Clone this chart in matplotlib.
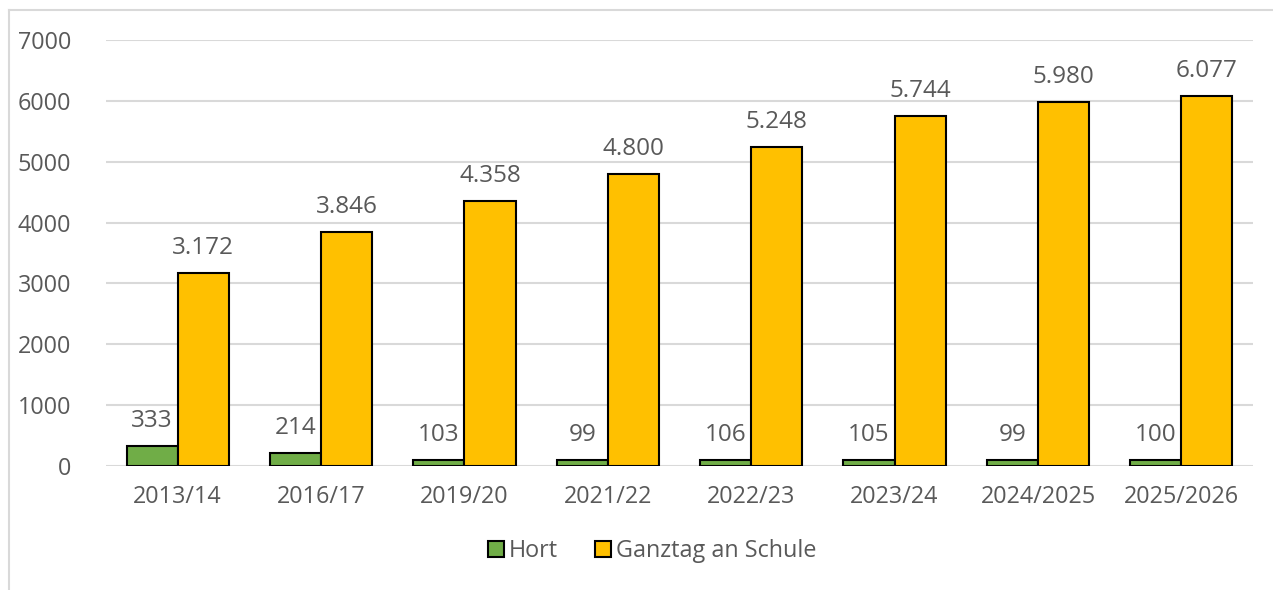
import matplotlib.pyplot as plt
import numpy as np
from matplotlib.lines import Line2D

plt.rcParams['font.family'] = ['Open Sans', 'DejaVu Sans']

years = ['2013/14', '2016/17', '2019/20', '2021/22', '2022/23', '2023/24', '2024/2025', '2025/2026']
hort = [333, 214, 103, 99, 106, 105, 99, 100]
ganztag = [3172, 3846, 4358, 4800, 5248, 5744, 5980, 6077]
yticks = [0, 1000, 2000, 3000, 4000, 5000, 6000, 7000]

GREEN = '#70AD47'
ORANGE = '#FFC000'
TEXT = '#595959'
GRID = '#D9D9D9'


def fmt_de(v):
    # German thousands separator
    return f'{v:,}'.replace(',', '.')


fig = plt.figure(figsize=(12.73, 5.90), dpi=100)
ax = fig.add_axes([106 / 1273, 1 - 466 / 590, (1253 - 106) / 1273, (466 - 40) / 590])

x = np.arange(len(years))
w = 0.357
b1 = ax.bar(x - w / 2, hort, w, color=GREEN, edgecolor='black', linewidth=1.5, label='Hort', zorder=3)
b2 = ax.bar(x + w / 2, ganztag, w, color=ORANGE, edgecolor='black', linewidth=1.5,
            label='Ganztag an Schule', zorder=3)

for bars, vals in ((b1, hort), (b2, ganztag)):
    for r, v in zip(bars, vals):
        ax.annotate(fmt_de(v), (r.get_x() + r.get_width() / 2, r.get_height()),
                    xytext=(0, 18), textcoords='offset points', ha='center', va='center',
                    fontsize=17.5, color=TEXT)

ax.set_xlim(-0.5, len(years) - 0.5)
ax.set_ylim(0, 7000)
ax.set_yticks(yticks)
ax.set_yticklabels([str(t) for t in yticks])
ax.set_xticks(x)
ax.set_xticklabels(years)
ax.tick_params(length=0, labelsize=16.8, colors=TEXT)
ax.tick_params(axis='y', pad=25)
ax.tick_params(axis='x', pad=14)
ax.grid(axis='y', color=GRID, linewidth=1.5, zorder=0)
for s in ax.spines.values():
    s.set_visible(False)

fig.legend(handles=[b1, b2], loc='center', bbox_to_anchor=(652 / 1273, 1 - 551 / 590), ncol=2,
           frameon=False, fontsize=16.8, labelcolor=TEXT, handlelength=0.7, handleheight=0.7,
           handletextpad=0.2, columnspacing=1.6)

# light outer frame of the chart area
fig.add_artist(Line2D([9 / 1273, 9 / 1273], [0, 1 - 10 / 590], color=GRID, linewidth=1.5))
fig.add_artist(Line2D([9 / 1273, 1], [1 - 10 / 590, 1 - 10 / 590], color=GRID, linewidth=1.5))

fig.savefig('out.png', dpi=100)
